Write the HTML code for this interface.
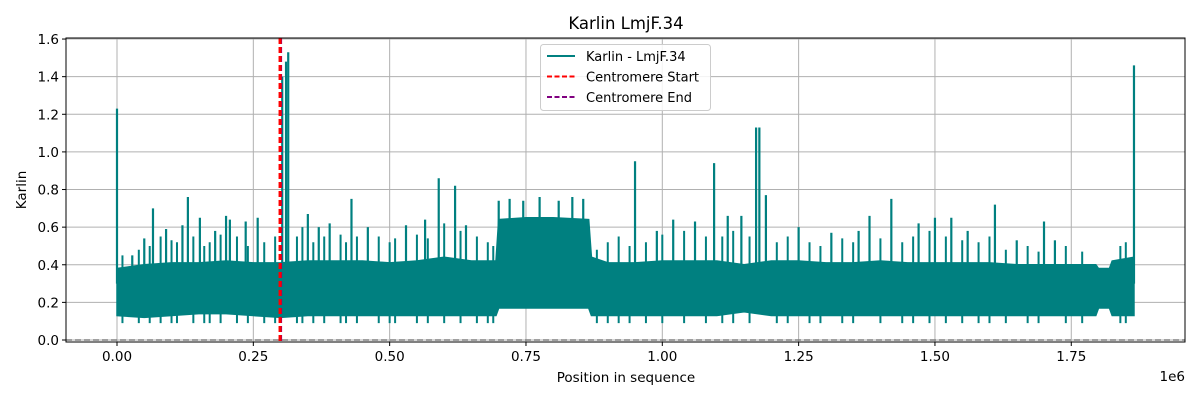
<!DOCTYPE html>
<html><head><meta charset="utf-8"><style>
body{margin:0;background:#fff;}
svg{display:block;font-family:"DejaVu Sans","Liberation Sans",sans-serif;}
</style></head><body>
<svg id="chart" width="1200" height="400" viewBox="0 0 1200 400"></svg>
<script>
// body envelope (position in 1e6, typical upper and lower karlin value)
const bodyPos = [0,0.05,0.1,0.15,0.2,0.25,0.3,0.35,0.4,0.45,0.5,0.55,0.6,0.65,0.695,0.70,0.75,0.8,0.865,0.87,0.9,0.95,1.0,1.05,1.1,1.15,1.2,1.25,1.3,1.35,1.4,1.45,1.5,1.55,1.6,1.65,1.7,1.75,1.795,1.80,1.82,1.825,1.865];
const bodyHi  = [0.38,0.40,0.41,0.41,0.42,0.41,0.41,0.42,0.42,0.42,0.41,0.42,0.44,0.42,0.42,0.64,0.65,0.65,0.64,0.44,0.41,0.41,0.42,0.42,0.42,0.40,0.42,0.42,0.41,0.41,0.42,0.41,0.41,0.41,0.41,0.40,0.40,0.40,0.40,0.38,0.38,0.42,0.44];
const bodyLo  = [0.13,0.12,0.13,0.14,0.14,0.13,0.12,0.13,0.13,0.13,0.13,0.13,0.13,0.13,0.13,0.17,0.17,0.17,0.17,0.13,0.13,0.13,0.13,0.13,0.13,0.15,0.13,0.13,0.13,0.13,0.13,0.13,0.13,0.13,0.13,0.13,0.13,0.13,0.13,0.17,0.17,0.13,0.13];
// tall spikes
const spikePos = [0.0,0.028,0.05,0.066,0.09,0.12,0.13,0.152,0.18,0.2,0.207,0.236,0.258,0.303,0.31,0.314,0.35,0.37,0.39,0.43,0.46,0.53,0.565,0.59,0.62,0.64,0.7,0.72,0.745,0.775,0.81,0.835,0.855,0.95,0.99,1.02,1.06,1.095,1.12,1.145,1.172,1.178,1.19,1.25,1.31,1.36,1.38,1.42,1.47,1.5,1.53,1.56,1.61,1.65,1.7,1.72,1.865];
const spikeVal = [1.23,0.45,0.54,0.70,0.59,0.61,0.76,0.65,0.58,0.66,0.64,0.63,0.65,1.40,1.48,1.53,0.67,0.60,0.62,0.75,0.60,0.61,0.64,0.86,0.82,0.61,0.74,0.75,0.74,0.76,0.74,0.76,0.75,0.95,0.58,0.64,0.63,0.94,0.66,0.66,1.13,1.13,0.77,0.60,0.57,0.58,0.66,0.75,0.62,0.65,0.65,0.58,0.72,0.53,0.63,0.53,1.46];
// medium spikes (hairy upper edge)
const midPos = [0.01,0.04,0.06,0.08,0.1,0.11,0.14,0.16,0.17,0.19,0.22,0.24,0.27,0.29,0.33,0.34,0.36,0.38,0.41,0.42,0.44,0.48,0.5,0.51,0.55,0.57,0.6,0.63,0.66,0.68,0.69,0.88,0.9,0.92,0.94,0.97,1.0,1.04,1.08,1.11,1.13,1.16,1.21,1.23,1.27,1.29,1.33,1.35,1.4,1.44,1.46,1.49,1.52,1.55,1.58,1.6,1.63,1.67,1.69,1.74,1.77,1.84,1.85];
const midVal = [0.45,0.48,0.50,0.55,0.53,0.52,0.55,0.50,0.52,0.56,0.55,0.50,0.52,0.55,0.55,0.60,0.52,0.55,0.56,0.52,0.55,0.55,0.52,0.54,0.56,0.54,0.62,0.58,0.55,0.52,0.50,0.48,0.52,0.55,0.50,0.52,0.56,0.58,0.55,0.55,0.58,0.55,0.52,0.55,0.52,0.50,0.54,0.52,0.54,0.52,0.55,0.58,0.55,0.53,0.52,0.55,0.48,0.50,0.47,0.50,0.47,0.50,0.52];
const yTicks = [0,0.2,0.4,0.6,0.8,1.0,1.2,1.4,1.6];
const xTicks = [0,0.25,0.5,0.75,1.0,1.25,1.5,1.75];
const centStart = 0.299, centEnd = 0.300;

const L=66,R=1185,T=38,B=342;
const X=v=>117+v*545.3;
const Y=v=>340-v*188.1;
const NS='http://www.w3.org/2000/svg';
const svg=document.getElementById('chart');
function mk(tag,attrs,parent){const e=document.createElementNS(NS,tag);for(const k in attrs)e.setAttribute(k,attrs[k]);(parent||svg).appendChild(e);return e;}

let t=mk('text',{x:626,y:29,'font-size':16.5,'text-anchor':'middle',fill:'#000'});t.textContent='Karlin LmjF.34';



const grid=mk('g',{stroke:'#b0b0b0','stroke-width':1});


yTicks.forEach(v=>mk('line',{x1:L,x2:R,y1:Y(v),y2:Y(v)},grid));
xTicks.forEach(v=>mk('line',{x1:X(v),x2:X(v),y1:T,y2:B},grid));

const series=mk('g',{fill:'#008080',stroke:'#008080'});


let pts=[];
bodyPos.forEach((p,i)=>pts.push(X(p)+','+Y(bodyHi[i])));
for(let i=bodyPos.length-1;i>=0;i--)pts.push(X(bodyPos[i])+','+Y(bodyLo[i]));
mk('polygon',{points:pts.join(' '),'stroke-width':1.5},series);
midPos.forEach((p,i)=>{
  const l=mk('line',{x1:X(p),x2:X(p),y1:Y(0.09),y2:Y(midVal[i]),'stroke-width':2},series);
  
  
});
spikePos.forEach((p,i)=>{
  const l=mk('line',{x1:X(p),x2:X(p),y1:Y(0.3),y2:Y(spikeVal[i]),'stroke-width':2.2},series);
  
  
});

const z=mk('line',{x1:L,x2:R,y1:Y(0),y2:Y(0),stroke:'#808080','stroke-width':1.5,'stroke-dasharray':'6,3'});



const ce=mk('line',{x1:X(centEnd),x2:X(centEnd),y1:T,y2:B,stroke:'#800080','stroke-width':3,'stroke-dasharray':'6,3'});


const cs=mk('line',{x1:X(centStart),x2:X(centStart),y1:T,y2:B,stroke:'#ff0000','stroke-width':3,'stroke-dasharray':'6,3'});



const fr=mk('rect',{x:L,y:T,width:R-L,height:B-T,fill:'none',stroke:'#000','stroke-width':1});



const yt=mk('g',{'font-size':13.5,fill:'#000'});


yTicks.forEach(v=>{mk('line',{x1:L-4,x2:L,y1:Y(v),y2:Y(v),stroke:'#000'},yt);
 const tx=mk('text',{x:L-7,y:Y(v)+5,'text-anchor':'end'},yt);tx.textContent=v.toFixed(1);});
const xt=mk('g',{'font-size':13.5,fill:'#000'});


xTicks.forEach(v=>{mk('line',{x1:X(v),x2:X(v),y1:B,y2:B+4,stroke:'#000'},xt);
 const tx=mk('text',{x:X(v),y:B+19,'text-anchor':'middle'},xt);tx.textContent=v.toFixed(2);});
let s=mk('text',{x:1185,y:381,'font-size':13.5,'text-anchor':'end'});s.textContent='1e6';


let xl=mk('text',{x:626,y:382,'font-size':13.5,'text-anchor':'middle'});xl.textContent='Position in sequence';


let yl=mk('text',{x:0,y:0,'font-size':13.5,'text-anchor':'middle',transform:'translate(26,190) rotate(-90)'});yl.textContent='Karlin';



const lg=mk('g',{});


mk('rect',{x:540.5,y:44.5,width:170,height:66,rx:3,fill:'#fff','fill-opacity':0.85,stroke:'#ccc'},lg);
const items=[['Karlin - LmjF.34','#008080',''],['Centromere Start','#ff0000','5,2.5'],['Centromere End','#800080','5,2.5']];
items.forEach((it,i)=>{const y=56+i*20.5;
 const ln=mk('line',{x1:547,x2:575,y1:y,y2:y,stroke:it[1],'stroke-width':2,'stroke-dasharray':it[2]},lg);
 
 
 const tx=mk('text',{x:586,y:y+5,'font-size':13},lg);tx.textContent=it[0];
 
 
});
</script>
</body></html>
